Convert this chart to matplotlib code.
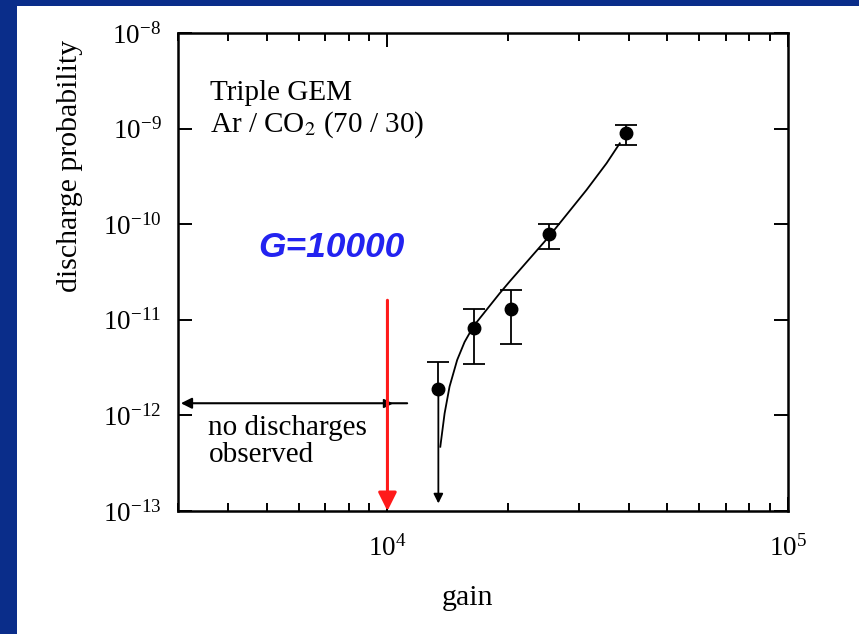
import matplotlib.pyplot as plt
from matplotlib.patches import Rectangle
from matplotlib.ticker import LogLocator, NullLocator

plt.rcParams['font.family'] = ['Liberation Serif', 'DejaVu Serif']
plt.rcParams['mathtext.fontset'] = 'stix'

# measured points (gain, discharge probability, error bar ends)
gain = [13400, 16400, 20400, 25300, 39300]
prob = [1.87e-12, 8.15e-12, 1.31e-11, 7.83e-11, 8.93e-10]
err_hi = [3.65e-12, 1.29e-11, 2.05e-11, 1.0e-10, 1.08e-9]
err_lo = [1.87e-12, 3.45e-12, 5.55e-12, 5.55e-11, 6.73e-10]
# first point: lower error runs down to the axis
arrow_floor = 1.2e-13

# fitted curve
curve_gain = [13550, 13890, 14290, 14930, 15580, 16410, 19060, 20180,
              25290, 31400, 35240, 38020]
curve_prob = [4.7e-13, 1.05e-12, 2.0e-12, 3.8e-12, 5.86e-12, 8.61e-12,
              1.89e-11, 2.51e-11, 7.40e-11, 2.28e-10, 4.34e-10, 7.02e-10]

# threshold annotations
g_mark = 1e4
p_mark_top = 1.6e-11
p_none = 1.34e-12
g_none = (3050, 11200)

xlim = (3000, 1e5)
ylim = (1e-13, 1e-8)

fig = plt.figure(figsize=(8.59, 6.34), dpi=100)
fig.patch.set_facecolor('#0a2d8a')
fig.add_artist(Rectangle((17 / 859, 0), 1, 1 - 6 / 634, transform=fig.transFigure,
                         facecolor='white', edgecolor='none', zorder=0))

ax = fig.add_axes([178 / 859, 123 / 634, 610 / 859, 478 / 634])
ax.set_xscale('log')
ax.set_yscale('log')
ax.set_xlim(*xlim)
ax.set_ylim(*ylim)

# data with error bars
ax.errorbar(gain[1:], prob[1:],
            yerr=[[p - l for p, l in zip(prob[1:], err_lo[1:])],
                  [h - p for p, h in zip(prob[1:], err_hi[1:])]],
            fmt='o', color='black', ms=9, capsize=8, elinewidth=1.3, capthick=1.3)
_, caps, _ = ax.errorbar(gain[:1], prob[:1], yerr=[[0], [err_hi[0] - prob[0]]],
                         fmt='o', color='black', ms=9, capsize=8,
                         elinewidth=1.3, capthick=1.3)
for c in caps:
    if c.get_ydata()[0] <= prob[0]:
        c.set_visible(False)
ax.annotate('', xy=(gain[0], arrow_floor), xytext=(gain[0], prob[0]),
            arrowprops=dict(arrowstyle='-|>', color='black', lw=1.3,
                            mutation_scale=14, shrinkA=0, shrinkB=0))

ax.plot(curve_gain, curve_prob, color='black', lw=1.3)

# no discharges region
ax.annotate('', xy=(g_none[0], p_none), xytext=(g_none[1], p_none),
            arrowprops=dict(arrowstyle='-|>', color='black', lw=1.5,
                            mutation_scale=16, shrinkA=0, shrinkB=0))
ax.plot([g_mark], [p_none], marker='>', color='black', ms=6)
ax.text(0.05, 0.158, 'no discharges', transform=ax.transAxes, fontsize=21,
        va='baseline', ha='left')
ax.text(0.05, 0.103, 'observed', transform=ax.transAxes, fontsize=21,
        va='baseline', ha='left')

# G=10000 marker
ax.annotate('', xy=(g_mark, ylim[0]), xytext=(g_mark, p_mark_top),
            arrowprops=dict(arrowstyle='-|>', color='#ff1a1a', lw=2.2,
                            mutation_scale=28, shrinkA=0, shrinkB=0), zorder=5)
ax.text(0.251, 0.552, 'G=10000', transform=ax.transAxes, fontsize=25.5,
        family='Liberation Sans', weight='bold', style='italic',
        color='#2323f0', ha='center', va='center')

ax.text(0.053, 0.860, 'Triple GEM', transform=ax.transAxes, fontsize=21,
        va='baseline')
ax.text(0.053, 0.793, 'Ar / CO$_2$ (70 / 30)', transform=ax.transAxes,
        fontsize=21, va='baseline')

# axes styling
ax.xaxis.set_major_locator(LogLocator(base=10, numticks=10))
ax.xaxis.set_minor_locator(LogLocator(base=10, subs=range(2, 10), numticks=20))
ax.yaxis.set_major_locator(LogLocator(base=10, numticks=10))
ax.yaxis.set_minor_locator(NullLocator())
ax.tick_params(which='both', direction='in', top=True, right=True, width=1.4,
               labelsize=19.5)
ax.tick_params(which='major', length=10)
ax.tick_params(which='minor', length=6)
ax.tick_params(axis='x', pad=17)
ax.tick_params(axis='y', pad=12)
for s in ax.spines.values():
    s.set_linewidth(1.8)

fig.text(70 / 859, 1 - 166 / 634, 'discharge probability', rotation=90,
         fontsize=21.5, ha='center', va='center')
fig.text(467 / 859, 1 - 598 / 634, 'gain', fontsize=21.5, ha='center',
         va='center')

fig.savefig('out.png', dpi=100, facecolor=fig.get_facecolor())
